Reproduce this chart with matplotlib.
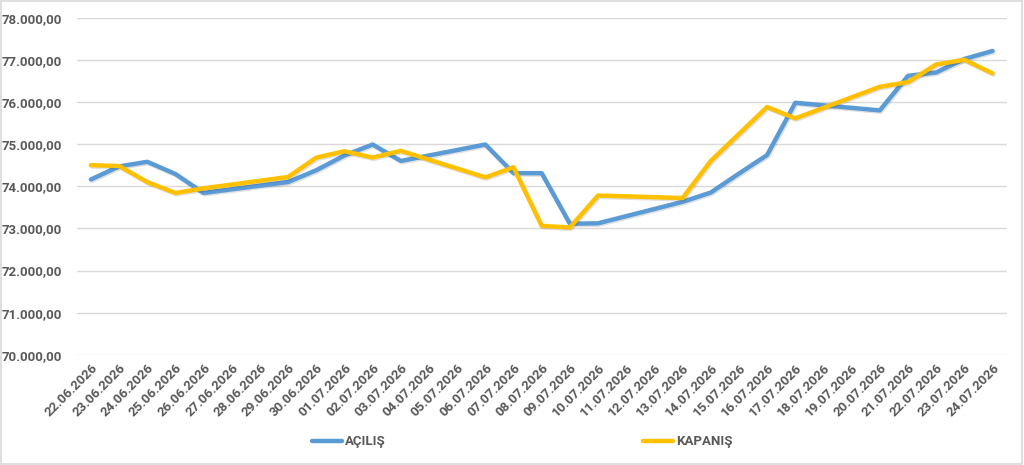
import numpy as np
import pandas as pd
import matplotlib
matplotlib.use("Agg")
import matplotlib.pyplot as plt
import matplotlib.dates as mdates
import matplotlib.patheffects as pe
from matplotlib.ticker import FuncFormatter, MultipleLocator
from matplotlib.patches import Rectangle

plt.rcParams["font.family"] = ["Roboto", "DejaVu Sans"]

# işlem günleri (hafta sonları yok, Excel tarih ekseni gibi)
dates = ["22.06.2026", "23.06.2026", "24.06.2026", "25.06.2026", "26.06.2026",
         "29.06.2026", "30.06.2026", "01.07.2026", "02.07.2026", "03.07.2026",
         "06.07.2026", "07.07.2026", "08.07.2026", "09.07.2026", "10.07.2026",
         "13.07.2026", "14.07.2026", "15.07.2026", "16.07.2026", "17.07.2026",
         "20.07.2026", "21.07.2026", "22.07.2026", "23.07.2026", "24.07.2026"]
acilis = [74160, 74470, 74580, 74290, 73840,
          74100, 74380, 74730, 74990, 74600,
          74990, 74310, 74310, 73110, 73120,
          73630, 73850, 74300, 74740, 75980,
          75800, 76620, 76700, 77020, 77210]
kapanis = [74500, 74480, 74100, 73840, 73950,
           74220, 74680, 74830, 74680, 74840,
           74210, 74450, 73060, 73020, 73780,
           73720, 74600, 75240, 75880, 75610,
           76360, 76470, 76890, 77000, 76680]

x = pd.to_datetime(dates, format="%d.%m.%Y")
all_days = pd.date_range(x[0], x[-1], freq="D")

blue = "#5B9BD5"
gold = "#FFC000"
grey_txt = "#595959"

fig = plt.figure(figsize=(10.24, 4.65), dpi=100)
ax = fig.add_axes([0.075, 0.237, 0.908, 0.725])

shadow = [pe.SimpleLineShadow(offset=(0.8, -1.0), alpha=0.12, shadow_color="k"), pe.Normal()]
l1, = ax.plot(x, acilis, color=blue, lw=3.2, solid_capstyle="round", solid_joinstyle="round",
              path_effects=shadow, label="AÇILIŞ", zorder=3)
l2, = ax.plot(x, kapanis, color=gold, lw=3.2, solid_capstyle="round", solid_joinstyle="round",
              path_effects=shadow, label="KAPANIŞ", zorder=4)

ax.set_ylim(70000, 78000)
ax.yaxis.set_major_locator(MultipleLocator(1000))
ax.yaxis.set_major_formatter(FuncFormatter(
    lambda v, p: f"{v:,.2f}".replace(",", "X").replace(".", ",").replace("X", ".")))
ax.set_xlim(all_days[0] - pd.Timedelta(hours=12), all_days[-1] + pd.Timedelta(hours=12))
ax.set_xticks(all_days)
ax.xaxis.set_major_formatter(mdates.DateFormatter("%d.%m.%Y"))

ax.grid(axis="y", color="#D9D9D9", lw=1.0)
ax.set_axisbelow(True)
for s in ax.spines.values():
    s.set_visible(False)
ax.tick_params(axis="both", length=0, colors=grey_txt)
ax.tick_params(axis="y", pad=11)
ax.tick_params(axis="x", pad=5)
for lab in ax.get_yticklabels():
    lab.set_fontsize(9.5)
    lab.set_fontweight("bold")
for lab in ax.get_xticklabels():
    lab.set_fontsize(9.5)
    lab.set_fontweight("bold")
    lab.set_rotation(45)
    lab.set_ha("right")
    lab.set_rotation_mode("anchor")

leg = fig.legend(handles=[l1, l2], loc="center", bbox_to_anchor=(0.51, 0.05), ncol=2,
                 frameon=False, handlelength=2.3, handletextpad=0.2, columnspacing=19.5,
                 prop={"size": 9.5, "weight": "bold"})
for t in leg.get_texts():
    t.set_color(grey_txt)
for h in leg.legend_handles:
    h.set_path_effects([])

fig.add_artist(Rectangle((0.001, 0.002), 0.997, 0.995, transform=fig.transFigure,
                         fill=False, edgecolor="#D9D9D9", lw=1.2))

fig.savefig("out.png", dpi=100)
